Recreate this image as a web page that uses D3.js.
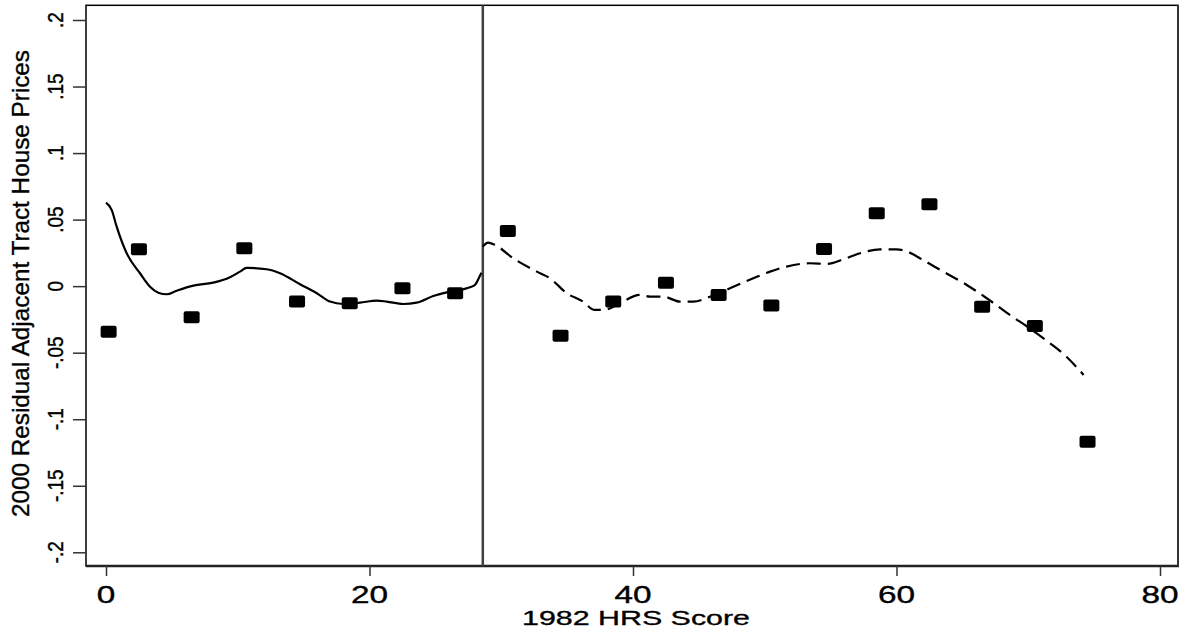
<!DOCTYPE html>
<html>
<head>
<meta charset="utf-8">
<script src="https://cdn.jsdelivr.net/npm/d3@7"></script>
<style>
  html, body { margin: 0; padding: 0; background: #fff; }
  svg { display: block; }
  text { font-family: "Liberation Sans", Arial, sans-serif; fill: #000; stroke: #000; stroke-width: 0.35px; }
</style>
</head>
<body>
<svg id="chart" width="1186" height="635"></svg>
<script>
// ---- data ----
const binX = [0.2, 2.5, 6.5, 10.5, 14.5, 18.5, 22.5, 26.5, 30.5, 34.5, 38.5, 42.5, 46.5, 50.5, 54.5, 58.5, 62.5, 66.5, 70.5, 74.5];
const binY = [-0.0342, 0.0277, -0.0234, 0.0285, -0.0116, -0.0129, -0.0016, -0.0053, 0.0415, -0.0372, -0.0116, 0.0026, -0.0066, -0.0146, 0.028, 0.0548, 0.0615, -0.0154, -0.0299, -0.117];

const leftFitX = [0, 0.43, 0.81, 1.57, 2.58, 3.34, 3.97, 4.61, 5.37, 6.63, 8.14, 9.41, 10.17, 10.68, 12.2, 13.21, 14.73, 16.0, 17.0, 18.0, 19.28, 20.55, 21.3, 22.57, 23.58, 24.84, 26.1, 27.63, 28.0, 28.33, 28.5];
const leftFitY = [0.0627, 0.0573, 0.0447, 0.0247, 0.0097, -0.0004, -0.0049, -0.0061, -0.0034, 0.0004, 0.0026, 0.0067, 0.0109, 0.0137, 0.0127, 0.0097, 0.0014, -0.0053, -0.0116, -0.0134, -0.0124, -0.0109, -0.0116, -0.0134, -0.0124, -0.0074, -0.0041, -0.0008, 0.0009, 0.0067, 0.0100];

const rightFitX = [28.6, 29.0, 29.53, 30.9, 32.7, 33.7, 34.97, 36.2, 37.1, 38.0, 39.0, 40.53, 41.3, 42.3, 43.57, 44.58, 45.85, 47.36, 49.13, 50.4, 51.66, 53.43, 54.7, 55.96, 57.23, 58.75, 60.0, 61.0, 62.0, 63.55, 65.33, 66.85, 68.6, 70.1, 71.65, 72.9, 74.2];
const rightFitY = [0.0297, 0.0327, 0.031, 0.021, 0.0109, 0.0059, -0.0053, -0.0116, -0.0179, -0.0174, -0.0128, -0.0066, -0.0079, -0.0079, -0.0116, -0.0116, -0.0079, -0.0016, 0.0059, 0.0109, 0.0147, 0.0172, 0.0167, 0.0202, 0.0247, 0.0277, 0.0277, 0.0252, 0.0197, 0.0109, 0.0009, -0.0091, -0.0216, -0.0316, -0.0429, -0.053, -0.0667];

const cutoff = 28.6;
const xTicks = [0, 20, 40, 60, 80];
const xTickLabels = ["0", "20", "40", "60", "80"];
const yTicks = [0.2, 0.15, 0.1, 0.05, 0, -0.05, -0.1, -0.15, -0.2];
const yTickLabels = [".2", ".15", ".1", ".05", "0", "-.05", "-.1", "-.15", "-.2"];
const xTitle = "1982 HRS Score";
const yTitle = "2000 Residual Adjacent Tract House Prices";

// ---- layout ----
const frame = { left: 86, right: 1178, top: 5.3, bottom: 566 };
const x = d3.scaleLinear().domain([0, 80]).range([106, 1160]);
const y = d3.scaleLinear().domain([-0.2, 0.2]).range([552.3, 20]);

const svg = d3.select("#chart");

// frame
svg.append("rect")
  .attr("x", frame.left).attr("y", frame.top)
  .attr("width", frame.right - frame.left).attr("height", frame.bottom - frame.top)
  .attr("fill", "none").attr("stroke", "#000").attr("stroke-width", 1.5);
svg.append("line")
  .attr("x1", frame.left).attr("x2", frame.right + 1)
  .attr("y1", frame.bottom).attr("y2", frame.bottom)
  .attr("stroke", "#222").attr("stroke-width", 2.5);
svg.append("line")
  .attr("x1", frame.right).attr("x2", frame.right)
  .attr("y1", frame.top).attr("y2", frame.bottom)
  .attr("stroke", "#333").attr("stroke-width", 2);

// y axis ticks
const yAxis = d3.axisLeft(y).tickValues(yTicks).tickSize(13).tickFormat("");
const gy = svg.append("g").attr("transform", `translate(${frame.left},0)`).call(yAxis);
gy.select(".domain").remove();
gy.selectAll(".tick line").attr("stroke", "#333").attr("stroke-width", 1.5);

svg.append("g").selectAll("text")
  .data(yTicks)
  .join("text")
  .attr("transform", d => `translate(62.5,${y(d)}) scale(1.13,1) rotate(-90)`)
  .attr("text-anchor", "middle")
  .attr("font-size", 19)
  .text((d, i) => yTickLabels[i]);

// x axis ticks
const xAxis = d3.axisBottom(x).tickValues(xTicks).tickSize(10).tickFormat("");
const gx = svg.append("g").attr("transform", `translate(0,${frame.bottom})`).call(xAxis);
gx.select(".domain").remove();
gx.selectAll(".tick line").attr("stroke", "#333").attr("stroke-width", 1.5);

svg.append("g").selectAll("text")
  .data(xTicks)
  .join("text")
  .attr("transform", d => `translate(${x(d)},603) scale(1.45,1)`)
  .attr("text-anchor", "middle")
  .attr("font-size", 23)
  .text((d, i) => xTickLabels[i]);

// titles
svg.append("text")
  .attr("transform", "translate(636,625)")
  .attr("text-anchor", "middle")
  .attr("font-size", 21)
  .attr("textLength", 228)
  .attr("lengthAdjust", "spacingAndGlyphs")
  .text(xTitle);

svg.append("text")
  .attr("transform", "translate(29,283.5) rotate(-90)")
  .attr("text-anchor", "middle")
  .attr("font-size", 24)
  .attr("textLength", 467)
  .attr("lengthAdjust", "spacingAndGlyphs")
  .text(yTitle);

// cutoff line
svg.append("line")
  .attr("x1", x(cutoff)).attr("x2", x(cutoff))
  .attr("y1", frame.top).attr("y2", frame.bottom)
  .attr("stroke", "#404040").attr("stroke-width", 2.5);

// fitted lines
const line = d3.line().x(d => x(d[0])).y(d => y(d[1])).curve(d3.curveMonotoneX);
svg.append("path")
  .datum(leftFitX.map((v, i) => [v, leftFitY[i]]))
  .attr("d", line)
  .attr("fill", "none").attr("stroke", "#000").attr("stroke-width", 2.2);
svg.append("path")
  .datum(rightFitX.map((v, i) => [v, rightFitY[i]]))
  .attr("d", line)
  .attr("fill", "none").attr("stroke", "#000").attr("stroke-width", 2.2)
  .attr("stroke-dasharray", "14,7");

// bin means
svg.append("g").selectAll("rect")
  .data(binX.map((v, i) => [v, binY[i]]))
  .join("rect")
  .attr("x", d => x(d[0]) - 8).attr("y", d => y(d[1]) - 6)
  .attr("width", 16).attr("height", 12)
  .attr("rx", 2).attr("ry", 2)
  .attr("fill", "#000");
</script>
</body>
</html>
